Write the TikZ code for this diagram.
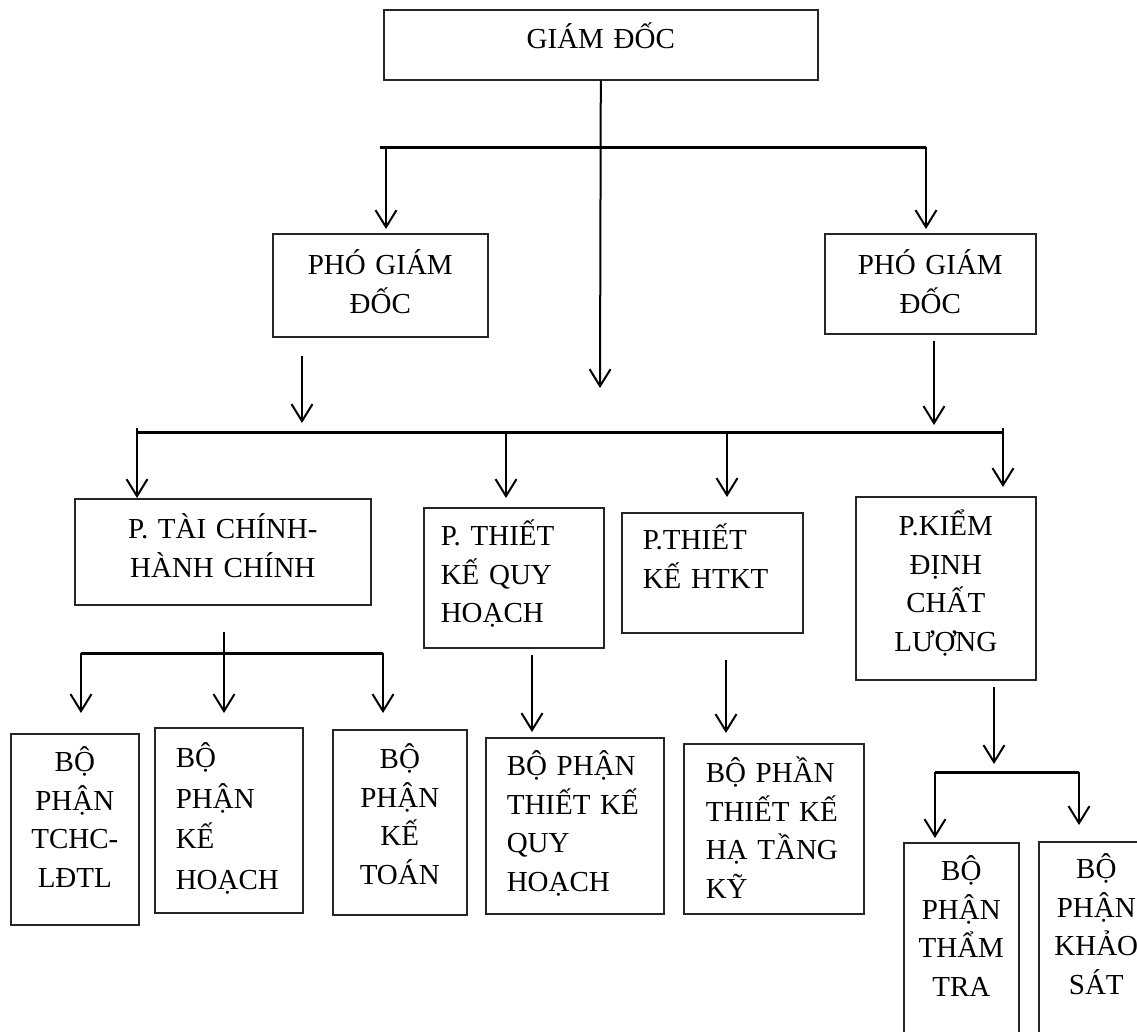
\documentclass[tikz,border=0pt]{standalone}
\usepackage{fontspec}
\setmainfont{Liberation Serif}
\usepackage{tikz}
\usetikzlibrary{arrows.meta}
\tikzset{
  hop/.style={draw=black!85, line width=1.6pt, anchor=north west, inner sep=0pt,
    font=\fontsize{29pt}{38.5pt}\selectfont},
  hopg/.style={hop, align=center},
  hopt/.style={hop, align=left},
  muiten/.style={-{Straight Barb[length=17pt,width=21pt]}, line width=2pt},
  thanh/.style={line width=3pt},
}

\begin{document}
\begin{tikzpicture}[x=1pt, y=-1pt]
  \useasboundingbox (0,0) rectangle (1137,1031);
  \clip (0,0) rectangle (1137,1031);

  % cap lanh dao
  \node[hopg, minimum width=434pt, text width=434pt, text height=39pt, text depth=31pt] (gd) at (383,9) {GIÁM ĐỐC};
  \node[hopg, minimum width=215pt, text width=215pt, text height=41pt, text depth=62pt] (pgd1) at (272,233) {PHÓ GIÁM\\ĐỐC};
  \node[hopg, minimum width=211pt, text width=211pt, text height=41pt, text depth=59pt] (pgd2) at (824,233) {PHÓ GIÁM\\ĐỐC};

  % cac phong
  \node[hopg, minimum width=296pt, text width=296pt, text height=40pt, text depth=66pt] (tc) at (74,498) {P. TÀI CHÍNH-\\HÀNH CHÍNH};
  \node[hopt, minimum width=180pt, text width=146pt, text height=38pt, text depth=102pt] (qh) at (423,507) {P. THIẾT\\KẾ QUY\\HOẠCH};
  \node[hopt, minimum width=181pt, text width=139pt, text height=37pt, text depth=83pt] (htkt) at (621,512) {P.THIẾT\\KẾ HTKT};
  \node[hopg, minimum width=180pt, text width=180pt, text height=39pt, text depth=144pt] (kd) at (855,496) {P.KIỂM\\ĐỊNH\\CHẤT\\LƯỢNG};

  % cac bo phan
  \node[hopg, minimum width=128pt, text width=128pt, text height=38pt, text depth=153pt] (bp1) at (10,733) {BỘ\\PHẬN\\TCHC-\\LĐTL};
  \node[hopt, minimum width=148pt, text width=106pt, text height=40pt, text depth=145pt] (bp2) at (154,727) {BỘ\\[2pt]PHẬN\\[2pt]KẾ\\[2pt]HOẠCH};
  \node[hopg, minimum width=134pt, text width=134pt, text height=39pt, text depth=146pt] (bp3) at (332,729) {BỘ\\PHẬN\\KẾ\\TOÁN};
  \node[hopt, minimum width=178pt, text width=136pt, text height=38pt, text depth=138pt] (bp4) at (485,737) {BỘ PHẬN\\THIẾT KẾ\\QUY\\HOẠCH};
  \node[hopt, minimum width=180pt, text width=136pt, text height=39pt, text depth=131pt] (bp5) at (683,743) {BỘ PHẦN\\THIẾT KẾ\\HẠ TẦNG\\KỸ};
  \node[hopg, minimum width=115pt, text width=115pt, text height=38pt, text depth=222pt] (bp6) at (903,842) {BỘ\\PHẬN\\THẨM\\TRA};
  \node[hopg, minimum width=115pt, text width=115pt, text height=37pt, text depth=223pt] (bp7) at (1038,841) {BỘ\\PHẬN\\KHẢO\\SÁT};

  % giam doc xuong
  \coordinate (c0) at (600,388);
  \coordinate (t1) at (386,147);
  \coordinate (t2) at (926,147);
  \draw[muiten] (gd.south) -- (c0);
  \draw[thanh] ([xshift=-6pt]t1) -- (t2);
  \draw[muiten, shorten >=4pt] (t1) -- (t1 |- pgd1.north);
  \draw[muiten, shorten >=4pt] (t2) -- (t2 |- pgd2.north);

  % pho giam doc xuong
  \coordinate (p1) at (302,356);
  \coordinate (p2) at (302,423);
  \coordinate (p3) at (934,341);
  \coordinate (p4) at (934,425);
  \draw[muiten] (p1) -- (p2);
  \draw[muiten] (p3) -- (p4);

  % thanh ngang cac phong
  \coordinate (b1) at (137,432);
  \coordinate (b2) at (1003,432);
  \coordinate (m1) at (506,432);
  \coordinate (m2) at (727,432);
  \draw[thanh] (b1) -- (b2);
  \draw[muiten] ([yshift=4pt]b1) -- (b1 |- tc.north);
  \draw[muiten, shorten >=9pt] (m1) -- (m1 |- qh.north);
  \draw[muiten, shorten >=15pt] (m2) -- (m2 |- htkt.north);
  \draw[muiten, shorten >=9pt] ([yshift=4pt]b2) -- (b2 |- kd.north);

  % phong tai chinh
  \coordinate (s0) at (224,632);
  \coordinate (s1) at (81,653);
  \coordinate (s2) at (383,653);
  \draw[muiten, shorten >=14pt] (s0) -- (s0 |- bp2.north);
  \draw[thanh] (s1) -- (s2);
  \draw[muiten, shorten >=20pt] (s1) -- (s1 |- bp1.north);
  \draw[muiten, shorten >=16pt] (s2) -- (s2 |- bp3.north);

  % phong thiet ke
  \coordinate (q0) at (532,655);
  \coordinate (h0) at (726,660);
  \draw[muiten, shorten >=5pt] (q0) -- (q0 |- bp4.north);
  \draw[muiten, shorten >=10pt] (h0) -- (h0 |- bp5.north);

  % phong kiem dinh
  \coordinate (k0) at (994,687);
  \coordinate (k1) at (994,764);
  \coordinate (k2) at (935,772);
  \coordinate (k3) at (1079,772);
  \draw[muiten] (k0) -- (k1);
  \draw[thanh] (k2) -- (k3);
  \draw[muiten, shorten >=4pt] (k2) -- (k2 |- bp6.north);
  \draw[muiten, shorten >=16pt] (k3) -- (k3 |- bp7.north);
\end{tikzpicture}
\end{document}
